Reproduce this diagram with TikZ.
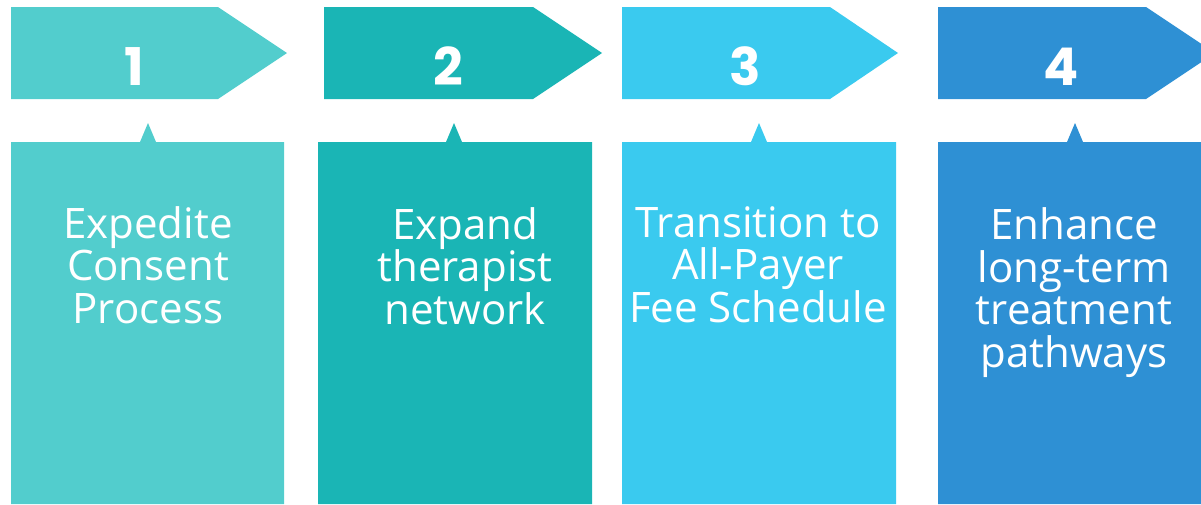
\documentclass[tikz,border=0pt]{standalone}
\usepackage{fontspec}
\setmainfont{Open Sans}
\newfontfamily\numfont{Poppins}
\definecolor{cA}{HTML}{52CDCD}
\definecolor{cB}{HTML}{1AB5B5}
\definecolor{cC}{HTML}{3ACAEF}
\definecolor{cD}{HTML}{2E90D4}
\tikzset{
  numlabel/.style={text=white, anchor=base, inner sep=0pt, font=\numfont\bfseries\fontsize{52}{52}\selectfont},
  boxtext/.style={text=white, anchor=base, inner sep=0pt, align=center, font=\fontsize{42}{42.5}\selectfont},
}
\newcommand{\steparrow}[4]{% color, L, B, T
  \fill[#1] (#2,7) -- (#3,7) -- (#4,53) -- (#3,99) -- (#2,99) -- cycle;}
\newcommand{\stepbox}[4]{% color, l, r, peak
  \fill[#1] (#2,142) -- ({#4-8},142) -- (#4,123) -- ({#4+8},142) -- (#3,142) -- (#3,504) -- (#2,504) -- cycle;}
\begin{document}
\begin{tikzpicture}[x=1pt,y=-1pt]
\useasboundingbox (0,0) rectangle (1201,504);
\clip (0,0) rectangle (1201,504);
\steparrow{cA}{11}{218}{287}
\steparrow{cB}{324}{533}{602}
\steparrow{cC}{622}{830}{898}
\steparrow{cD}{938}{1146}{1215}
\stepbox{cA}{11}{284}{148}
\stepbox{cB}{318}{592}{454}
\stepbox{cC}{622}{896}{759}
\stepbox{cD}{938}{1210}{1075}
\node[numlabel] (n1) at (134,85) {1};
\node[numlabel] (n2) at (448,85) {2};
\node[numlabel] (n3) at (745,85) {3};
\node[numlabel] (n4) at (1061,85) {4};
\node[boxtext] (t1) at (148,323) {Expedite\\Consent\\Process};
\node[boxtext] (t2) at (465,324) {Expand\\therapist\\network};
\node[boxtext] (t3) at (758,322) {Transition to\\All-Payer\\Fee Schedule};
\node[boxtext] (t4) at (1074,367) {Enhance\\long-term\\treatment\\pathways};
\end{tikzpicture}
\end{document}
